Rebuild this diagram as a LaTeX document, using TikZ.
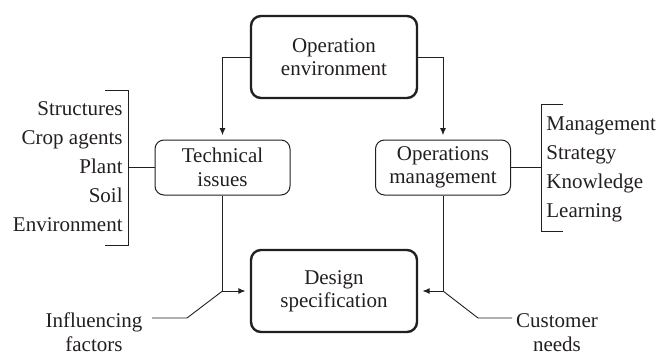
\documentclass[tikz,border=0pt]{standalone}
\usepackage{fontspec}
\setmainfont{Liberation Serif}
\usetikzlibrary{arrows.meta}
\definecolor{ink}{HTML}{231F20}
\begin{document}
\begin{tikzpicture}[x=0.5pt,y=-0.5pt,
  every node/.style={font=\fontsize{10.5}{11.7}\selectfont, text=ink},
  bigbox/.style={draw=ink, line width=1.2pt, rounded corners=5pt, minimum width=83pt, minimum height=41pt, align=center, inner sep=0pt},
  smallbox/.style={draw=ink, line width=0.5pt, rounded corners=4.5pt, minimum width=67.5pt, minimum height=27.5pt, align=center, inner sep=0pt},
  conn/.style={draw=ink, line width=0.45pt},
  arr/.style={conn, -{Latex[length=3.5pt,width=3pt]}, shorten >=2.2pt},
  lbl/.style={inner sep=0pt}]
\useasboundingbox (0,0) rectangle (660,354);

\node[bigbox] (op) at (334,57) {Operation\\environment};
\node[smallbox] (tech) at (222.5,167.5) {Technical\\issues};
\node[smallbox] (ops) at (443,167.5) {Operations\\management};
\node[bigbox] (des) at (334,291) {Design\\specification};

% left list
\node[lbl, anchor=base east] (l1) at (123,115.5) {Structures};
\node[lbl, anchor=base east] (l2) at (123,144.5) {Crop agents};
\node[lbl, anchor=base east] (l3) at (123,173.5) {Plant};
\node[lbl, anchor=base east] (l4) at (123,202.5) {Soil};
\node[lbl, anchor=base east] (l5) at (123,231.5) {Environment};

% right list
\node[lbl, anchor=base west] (r1) at (546,130) {Management};
\node[lbl, anchor=base west] (r2) at (546,159) {Strategy};
\node[lbl, anchor=base west] (r3) at (546,188) {Knowledge};
\node[lbl, anchor=base west] (r4) at (546,217) {Learning};

% bottom labels
\node[lbl, align=center, anchor=base] (inf) at (94,351) {Influencing\\factors};
\node[lbl, align=center, anchor=base] (cus) at (557,351) {Customer\\needs};

% brackets
\coordinate (lbt) at (128,90);
\coordinate (lbb) at (128,245);
\draw[conn] (105,90) -- (lbt) -- (lbb) -- (105,245);
\coordinate (rbt) at (541,104);
\coordinate (rbb) at (541,231);
\draw[conn] (563,104) -- (rbt) -- (rbb) -- (563,231);
\draw[conn] (tech.west) -- (tech.west -| lbt);
\draw[conn] (ops.east) -- (ops.east -| rbt);

% arrows
\draw[arr] (op.west) -| (tech.north);
\draw[arr] (op.east) -| (ops.north);
\draw[arr] (tech.south) |- (des.west);
\draw[arr] (ops.south) |- (des.east);

% influencing lines
\coordinate (jl) at (tech.south |- des.west);
\coordinate (jr) at (ops.south |- des.east);
\coordinate (ifl) at (152,318);
\coordinate (cul) at (512,318);
\draw[conn] (jl) -- (187,318) -- (ifl);
\draw[conn] (jr) -- (478,318) -- (cul);
\end{tikzpicture}
\end{document}
